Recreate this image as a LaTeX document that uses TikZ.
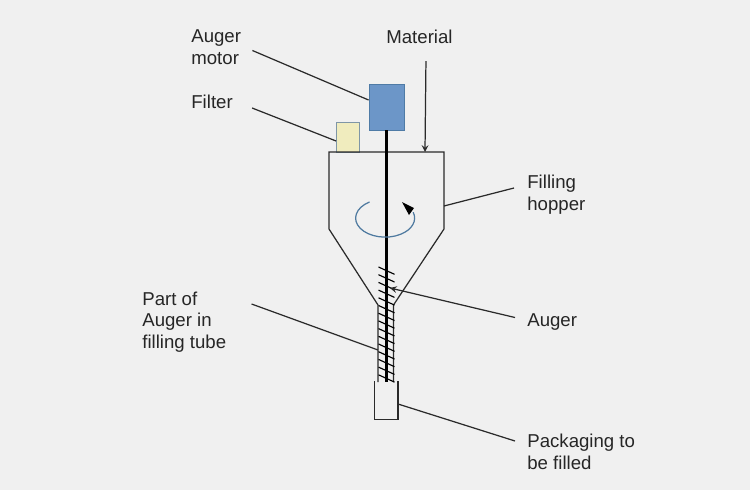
\documentclass[tikz,border=0pt]{standalone}
\usepackage{fontspec}
\setmainfont{Liberation Sans}
\usetikzlibrary{arrows,positioning,calc}
\definecolor{bgcol}{HTML}{F0F0F0}
\definecolor{motorcol}{HTML}{6C96C8}
\definecolor{motoredge}{HTML}{4F7BA6}
\definecolor{filtercol}{HTML}{F0ECBE}
\definecolor{filteredge}{HTML}{7F96A6}
\definecolor{linecol}{HTML}{2A2A2A}
\definecolor{swirlcol}{HTML}{4F7AA0}
\tikzstyle{lbl}   =[font=\fontsize{10.6}{12.4}\selectfont, text=black!85, align=left, anchor=west, inner sep=0pt]
\tikzstyle{lead}  =[linecol, line width=0.7pt]
\tikzstyle{wall}  =[linecol, line width=0.7pt]
\tikzstyle{flight}=[black, line width=0.65pt]

\begin{document}
\begin{tikzpicture}[every node/.style={font=\footnotesize}]

  \fill[bgcol] (0,0) rectangle (15,9.8);

  % blocks
  \node[draw=motoredge, fill=motorcol, line width=0.5pt, minimum width=0.70cm, minimum height=0.92cm,
        inner sep=0pt] (motor) at (7.73, 7.66) {};
  \node[draw=filteredge, fill=filtercol, line width=0.5pt, minimum width=0.46cm, minimum height=0.60cm,
        inner sep=0pt] (filter) at (6.96, 7.06) {};

  % hopper, tube and packaging
  \coordinate (tubeL) at (7.56, 2.16);
  \coordinate (tubeR) at (7.87, 2.16);
  \coordinate (shaftend) at (7.73, 2.16);
  \draw[wall, line join=miter] (tubeL) -- (7.56, 3.70) -- (6.58, 5.22) -- (6.58, 6.76) -- (8.88, 6.76)
        -- (8.88, 5.22) -- (7.87, 3.70) -- (tubeR);
  \draw[wall] (7.49, 2.18) -- (7.49, 1.41) -- (7.96, 1.41) -- (7.96, 2.18);
  \coordinate (hoptop) at (8.50, 6.76);
  \coordinate (hopside) at (8.88, 5.68);
  \coordinate (pack) at (7.96, 1.72);

  % shaft and flights
  \draw[black, line width=1.2pt] (motor.south) -- (shaftend);
  \foreach \i in {0,...,14}
    \draw[flight] (7.57, 4.46-0.154*\i) -- ++(0.32, -0.146);

  % swirl
  \draw[swirlcol, line width=0.7pt] (7.39, 5.76) arc[start angle=122, end angle=378, x radius=0.59, y radius=0.38];
  \fill[black] (8.04, 5.76) -- (8.28, 5.64) -- (8.18, 5.50) -- cycle;

  % labels
  \node[lbl] (lblmotor) at (3.82, 8.85) {Auger\\motor};
  \node[lbl] (lblfilter) at (3.82, 7.76) {Filter};
  \node[lbl] (lblmat) at (7.72, 9.06) {Material};
  \node[lbl] (lblhop) at (10.54, 5.90) {Filling\\hopper};
  \node[lbl] (lblaug) at (10.54, 3.36) {Auger};
  \node[lbl] (lblpart) at (2.84, 3.36) {Part of\\Auger in\\filling tube};
  \node[lbl] (lblpack) at (10.54, 0.76) {Packaging to\\be filled};

  % leaders
  \draw[lead] ([xshift=0.22cm, yshift=-0.06cm]lblmotor.east) -- ([yshift=0.14cm]motor.west);
  \draw[lead] ([xshift=0.38cm, yshift=-0.12cm]lblfilter.east) -- ([yshift=-0.08cm]filter.west);
  \draw[lead, ->, >=stealth] ([xshift=-0.54cm, yshift=-0.34cm]lblmat.south east) -- (hoptop);
  \draw[lead] ([xshift=-0.26cm, yshift=0.14cm]lblhop.west) -- (hopside);
  \draw[lead, ->, >=stealth] ([xshift=-0.24cm, yshift=0.09cm]lblaug.west) -- (7.80, 4.04);
  \draw[lead] ([xshift=0.50cm, yshift=0.36cm]lblpart.east) -- (7.56, 2.80);
  \draw[lead] ([xshift=-0.24cm, yshift=0.22cm]lblpack.west) -- (pack);

\end{tikzpicture}
\end{document}
